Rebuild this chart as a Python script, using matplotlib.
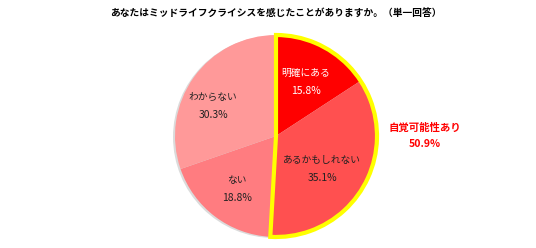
import matplotlib
matplotlib.use("Agg")
from matplotlib import pyplot as plt
from matplotlib.patches import Wedge, Circle

plt.rcParams['font.family'] = ['Noto Sans CJK JP', 'DejaVu Sans']

title = "あなたはミッドライフクライシスを感じたことがありますか。（単一回答）"
labels = ["明確にある", "あるかもしれない", "ない", "わからない"]
values = [15.8, 35.1, 18.8, 30.3]
colors = ["#FF0000", "#FF5050", "#FF7C80", "#FF9999"]
text_colors = ["white", "#222222", "#222222", "#222222"]
highlight_label = "自覚可能性あり"
highlight_value = 50.9

W, H = 536, 248
cx, cy, r = 276, 112, 101

fig = plt.figure(figsize=(W / 100, H / 100), dpi=100)
ax = fig.add_axes([0, 0, 1, 1])

# faint shadow on the left
ax.add_patch(Circle((cx - 2, cy - 1), r, color="#999999", alpha=0.35, lw=0))

wedges, _ = ax.pie(values, colors=colors, startangle=90, counterclock=False,
                   center=(cx, cy), radius=r,
                   wedgeprops=dict(linewidth=0))

# yellow outline around the "aware" half
span = 360 * sum(values[:2]) / 100
ax.add_patch(Wedge((cx, cy), r, 90 - span, 90, fill=False,
                   edgecolor="#FFFF00", linewidth=3, joinstyle="miter"))

label_pos = [(306, 175), (322, 88), (237, 68), (213, 151)]
for (x, y), lab, v, tc in zip(label_pos, labels, values, text_colors):
    ax.text(x, y, lab, ha="center", va="center", fontsize=7, color=tc)
    ax.text(x, y - 18, "{:.1f}%".format(v), ha="center", va="center", fontsize=7.5, color=tc)

ax.text(425, 120, highlight_label, ha="center", va="center", fontsize=7.5,
        color="#FF0000", fontweight="bold")
ax.text(425, 104, "{:.1f}%".format(highlight_value), ha="center", va="center",
        fontsize=7.5, color="#FF0000", fontweight="bold")

ax.text(276, 235, title, ha="center", va="center", fontsize=7, fontweight="bold")

ax.set_xlim(0, W)
ax.set_ylim(0, H)
ax.set_aspect("equal")
ax.axis("off")

fig.savefig("out.png", dpi=100)
